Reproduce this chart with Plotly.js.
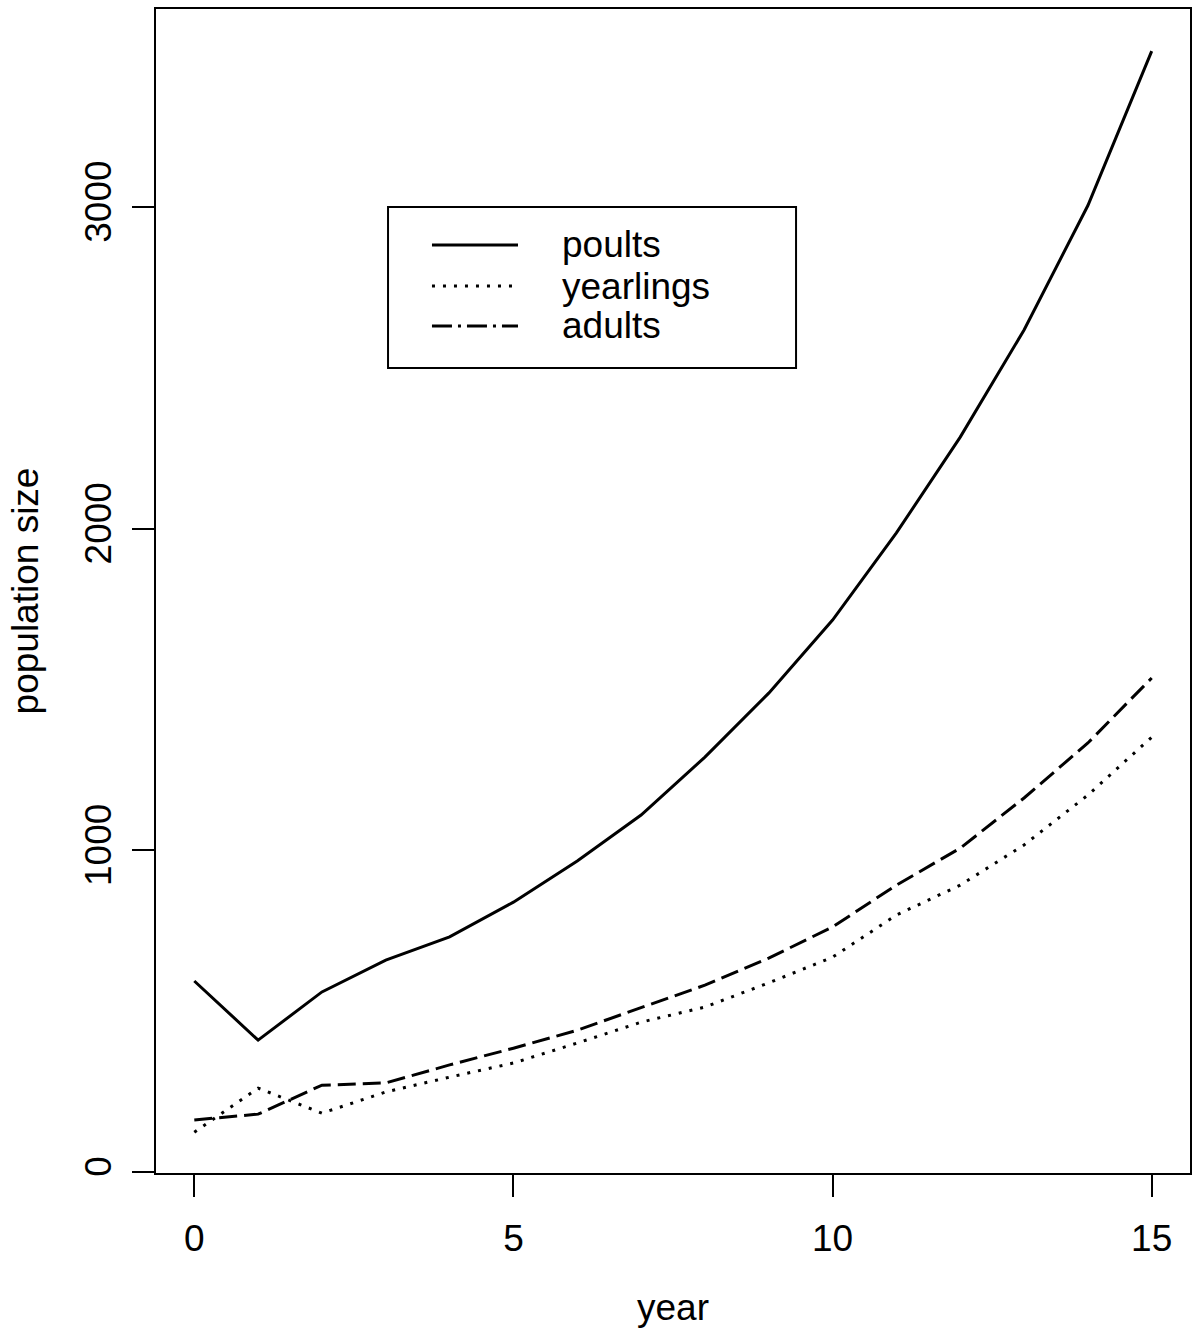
<!DOCTYPE html>
<html>
<head>
<meta charset="utf-8">
<script src="https://cdn.plot.ly/plotly-3.0.1.min.js"></script>
<style>html,body{margin:0;padding:0;background:#fff;}#chart{width:1193px;height:1332px;}</style>
</head>
<body>
<div id="chart"></div>
<script>
const years = [0,1,2,3,4,5,6,7,8,9,10,11,12,13,14,15];
const poults =    [594, 410, 560, 659, 731, 839, 967, 1110, 1290, 1489, 1716, 1987, 2285, 2618, 3005, 3485];
const yearlings = [124, 261, 183, 249, 295, 339, 401, 466, 513, 588, 668, 799, 892, 1017, 1172, 1352];
const adults =    [162, 180, 270, 277, 333, 385, 441, 510, 581, 665, 762, 892, 1007, 1163, 1334, 1536];
const seriesNames = ['poults', 'yearlings', 'adults'];
const xTicks = [0,5,10,15];
const yTicks = [0,1000,2000,3000];

const font = {family: 'Liberation Sans, Arial, sans-serif', size: 37, color: '#000'};
const dashes = ['solid', '3px,8px', '18px,7px'];
const legendDashes = ['solid', '3px,8px', '20px,6px,3px,6px'];
const seriesValues = [poults, yearlings, adults];

const traces = seriesValues.map((v, i) => ({
  x: years, y: v, name: seriesNames[i], mode: 'lines', showlegend: false,
  line: {color: '#000', width: 3, dash: dashes[i]}
}));

// legend (drawn in paper coordinates, like R's legend box)
const legX0 = 0.2244, legX1 = 0.6190, legY0 = 0.6916, legY1 = 0.8299;
const sampX0 = 0.2669, sampX1 = 0.3501, textX = 0.3907;
const rowY = [0.7973, 0.7620, 0.7277];

const shapes = [{
  type: 'rect', xref: 'paper', yref: 'paper', x0: legX0, x1: legX1, y0: legY0, y1: legY1,
  line: {color: '#000', width: 2}, fillcolor: '#fff', layer: 'above'
}];
const annotations = [];
seriesNames.forEach((n, i) => {
  shapes.push({type: 'line', xref: 'paper', yref: 'paper', x0: sampX0, x1: sampX1, y0: rowY[i], y1: rowY[i],
    line: {color: '#000', width: 3, dash: legendDashes[i]}, layer: 'above'});
  annotations.push({xref: 'paper', yref: 'paper', x: textX, y: rowY[i], xanchor: 'left', yanchor: 'middle',
    text: n, showarrow: false, font: font});
});

const layout = {
  width: 1193, height: 1332,
  margin: {l: 156, r: 3, t: 9, b: 159},
  paper_bgcolor: '#fff', plot_bgcolor: '#fff',
  font: font,
  showlegend: false,
  shapes: shapes,
  annotations: annotations,
  xaxis: {
    range: [-0.6, 15.6], tickmode: 'array', tickvals: xTicks, ticktext: xTicks.map(String),
    showgrid: false, zeroline: false, showline: true, mirror: true, linecolor: '#000', linewidth: 2,
    ticks: 'outside', ticklen: 22, tickwidth: 2, tickcolor: '#000', ticklabelstandoff: 10,
    tickfont: font,
    title: {text: 'year', font: font, standoff: 36}
  },
  yaxis: {
    range: [-3, 3616], tickmode: 'array', tickvals: yTicks, ticktext: yTicks.map(String),
    showgrid: false, zeroline: false, showline: true, mirror: true, linecolor: '#000', linewidth: 2,
    ticks: 'outside', ticklen: 22, tickwidth: 2, tickcolor: '#000', tickangle: -90, ticklabelstandoff: 6,
    tickfont: font,
    title: {text: 'population size', font: font, standoff: 28}
  }
};

Plotly.newPlot('chart', traces, layout, {displayModeBar: false, staticPlot: true});
</script>
</body>
</html>
